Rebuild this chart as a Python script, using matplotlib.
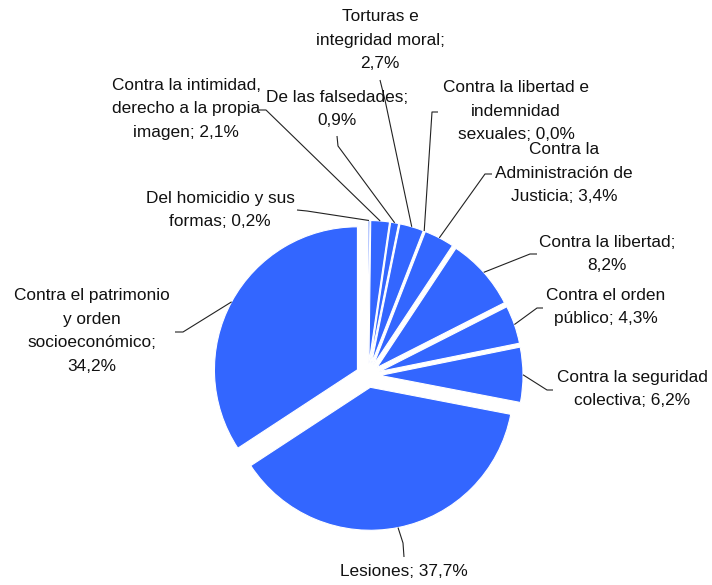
"""
Distribución de delitos por tipo - gráfico de sectores con sectores separados
"""
import numpy as np
import matplotlib
matplotlib.use("Agg")
import matplotlib.pyplot as plt

# ============= DATOS =============
categorias = [
    "Del homicidio y sus\nformas",
    "Contra la intimidad,\nderecho a la propia\nimagen",
    "De las falsedades;\n",
    "Torturas e\nintegridad moral;\n",
    "Contra la libertad e\nindemnidad\nsexuales",
    "Contra la\nAdministración de\nJusticia",
    "Contra la libertad;\n",
    "Contra el orden\npúblico",
    "Contra la seguridad\ncolectiva",
    "Lesiones",
    "Contra el patrimonio\ny orden\nsocioeconómico;\n",
]
porcentajes = [0.2, 2.1, 0.9, 2.7, 0.0, 3.4, 8.2, 4.3, 6.2, 37.7, 34.2]

# ============= DISPOSICION (pixeles en la imagen) =============
W, H = 712, 585
CX, CY = 368, 375.5      # centro del sector
S = 143.0                # radio en pixeles
EXPLODE = 12.0 / S

# centro del texto, codo y final de la linea guia
texto_pos = [(220, 210), (186, 109), (337, 109), (380, 40), (516, 111),
             (564, 173), (607, 254), (606, 307), (632, 389), (404, 572),
             (92, 331)]
codo_pos = [(307, 211), (266, 110), (338, 146), (385, 100), (432, 112),
            (485, 174), (530, 254), (537, 308), (547, 390), (403, 543),
            (183, 332)]
fin_pos = [(297, 210), (259, 110), (337, 136), (380, 80), (438, 112),
           (492, 174), (537, 254), (543, 308), (553, 390), (404, 557),
           (175, 332)]

AZUL = "#3366FF"


def px(p):
    """Convierte pixeles (origen arriba a la izquierda) a coordenadas del eje"""
    return ((p[0] - CX) / S, (CY - p[1]) / S)


def etiqueta(cat, val):
    v = f"{val:.1f}%".replace(".", ",")
    if cat.endswith("\n"):
        return cat + v
    return cat + "; " + v


plt.rcParams['font.family'] = ['Liberation Sans', 'DejaVu Sans']

fig = plt.figure(figsize=(W / 100, H / 100), dpi=100)
ax = fig.add_axes([0, 0, 1, 1])

# matplotlib no dibuja sectores de valor 0 con angulo, usamos un valor minimo
valores = [max(v, 1e-6) for v in porcentajes]
wedges, _ = ax.pie(valores, startangle=90, counterclock=False, radius=1.0,
                   explode=[EXPLODE] * len(valores),
                   colors=[AZUL] * len(valores),
                   wedgeprops=dict(edgecolor="white", linewidth=0.8))

for w, cat, val, tp, cp, fp in zip(wedges, categorias, porcentajes,
                                   texto_pos, codo_pos, fin_pos):
    ang = np.deg2rad((w.theta1 + w.theta2) / 2)
    x0 = w.center[0] + w.r * np.cos(ang)
    y0 = w.center[1] + w.r * np.sin(ang)
    c = px(cp)
    f = px(fp)
    ax.plot([x0, c[0], f[0]], [y0, c[1], f[1]], color="#222222",
            linewidth=0.8, solid_capstyle="butt")
    t = px(tp)
    ax.text(t[0], t[1], etiqueta(cat, val), ha="center", va="center",
            multialignment="center", fontsize=12.4, linespacing=1.7,
            color="#111111")

ax.set_xlim(-CX / S, (W - CX) / S)
ax.set_ylim(-(H - CY) / S, CY / S)
ax.set_aspect("auto")
ax.axis("off")

fig.savefig("out.png", dpi=100, facecolor="white")
